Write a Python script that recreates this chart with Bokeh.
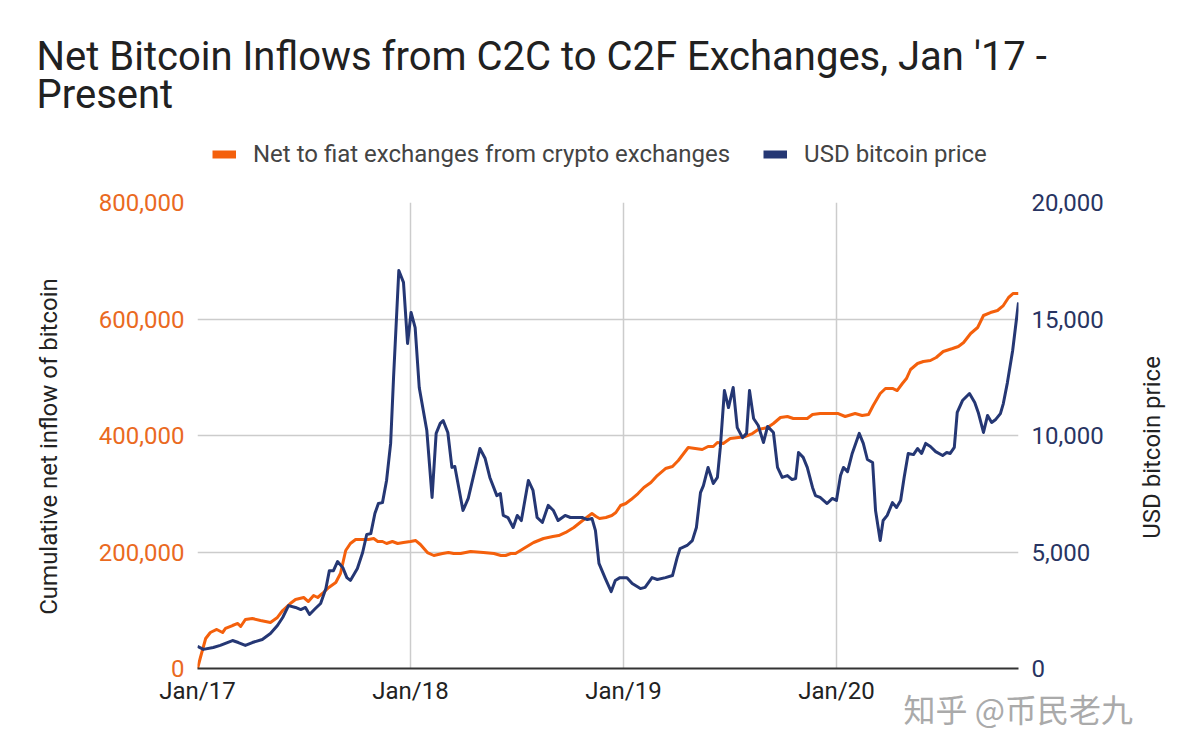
import math
import pandas as pd
from bokeh.plotting import figure
from bokeh.layouts import column, row
from bokeh.models import (Range1d, LinearAxis, NumeralTickFormatter, FixedTicker,
                          DatetimeTickFormatter, Legend, LegendItem, Label, Title)
from bokeh.embed import file_html
from bokeh.resources import INLINE

# ---------------- data ----------------
title_line1 = "Net Bitcoin Inflows from C2C to C2F Exchanges, Jan '17 -"
title_line2 = "Present"
series_flow_name = "Net to fiat exchanges from crypto exchanges"
series_price_name = "USD bitcoin price"
left_axis_title = "Cumulative net inflow of bitcoin"
right_axis_title = "USD bitcoin price"
watermark = "知乎 @币民老九"

x_ticks = ["2017-01-01", "2018-01-01", "2019-01-01", "2020-01-01"]
x_start = "2017-01-01"
x_end = "2020-11-08"
left_ticks = [0, 200000, 400000, 600000, 800000]
right_ticks = [0, 5000, 10000, 15000, 20000]

flow_dates = [
    "2017-01-01", "2017-01-06", "2017-01-15", "2017-01-23", "2017-02-03", "2017-02-13", "2017-02-18",
    "2017-03-02", "2017-03-11", "2017-03-16", "2017-03-24", "2017-04-05", "2017-04-19", "2017-05-06",
    "2017-05-18", "2017-05-27", "2017-06-09", "2017-06-18", "2017-07-02", "2017-07-10", "2017-07-19",
    "2017-07-26", "2017-08-03", "2017-08-14", "2017-08-26", "2017-09-03", "2017-09-12", "2017-09-20",
    "2017-09-29", "2017-10-11", "2017-10-21", "2017-10-30", "2017-11-06", "2017-11-14", "2017-11-21",
    "2017-12-01", "2017-12-10", "2017-12-20",
    "2018-01-01", "2018-01-10", "2018-01-18", "2018-01-30", "2018-02-10", "2018-02-25", "2018-03-07",
    "2018-03-16", "2018-03-28", "2018-04-14", "2018-05-06", "2018-05-24", "2018-06-05", "2018-06-13",
    "2018-06-22", "2018-06-30", "2018-07-14", "2018-07-31", "2018-08-17", "2018-09-02", "2018-09-12",
    "2018-09-24", "2018-10-08", "2018-10-23", "2018-11-08", "2018-11-15", "2018-11-21", "2018-12-02",
    "2018-12-12", "2018-12-19", "2018-12-27",
    "2019-01-05", "2019-01-14", "2019-01-26", "2019-02-05", "2019-02-17", "2019-02-28", "2019-03-14",
    "2019-03-26", "2019-04-05", "2019-04-22", "2019-05-04", "2019-05-16", "2019-05-26", "2019-06-04",
    "2019-06-11", "2019-06-21", "2019-07-03", "2019-07-17", "2019-07-29", "2019-08-10", "2019-08-20",
    "2019-09-05", "2019-09-15", "2019-09-27", "2019-10-09", "2019-10-19", "2019-10-31", "2019-11-12",
    "2019-11-21", "2019-12-04", "2019-12-18",
    "2020-01-03", "2020-01-16", "2020-02-02", "2020-02-14", "2020-02-25", "2020-03-04", "2020-03-16",
    "2020-03-25", "2020-04-06", "2020-04-14", "2020-04-23", "2020-04-30", "2020-05-07", "2020-05-19",
    "2020-05-29", "2020-06-10", "2020-06-20", "2020-07-02", "2020-07-18", "2020-07-28", "2020-08-06",
    "2020-08-18", "2020-08-30", "2020-09-09", "2020-09-21", "2020-10-03", "2020-10-13", "2020-10-22",
    "2020-10-30", "2020-11-08",
]
flow_btc = [
    0, 18900, 51500, 61800, 67000, 61800, 68700,
    73800, 77300, 72100, 84100, 85800, 82400, 79000,
    87600, 99600, 111600, 118500, 121900, 115000, 125300,
    121900, 128800, 139100, 147600, 163100, 202600, 214600,
    221500, 221500, 221500, 223200, 218000, 218000, 214600,
    218000, 214600, 216300,
    218000, 219700, 212900, 199100, 194000, 197400, 199100,
    197400, 197400, 200900, 199100, 197400, 194000, 194000,
    197400, 197400, 206000, 216300, 223200, 226600, 228300,
    233500, 242100, 254100, 266100, 260900, 257500, 259200,
    262700, 267800, 279800,
    283300, 290100, 300400, 310700, 319300, 331300, 343300,
    346800, 357100, 379400, 377700, 376000, 381100, 381100,
    388000, 386300, 394800, 396600, 398300, 403400, 410300,
    413700, 420600, 430900, 432600, 429200, 429200, 429200,
    436000, 437800, 437800,
    437800, 432600, 437800, 434300, 436000, 451500, 472100,
    480700, 480700, 477200, 489300, 497800, 513300, 523600,
    527000, 528700, 533900, 544200, 549300, 552800, 559600,
    575100, 585400, 606000, 611100, 614600, 623100, 636900,
    643800, 643800,
]

price_dates = [
    "2017-01-01", "2017-01-11", "2017-01-28", "2017-02-09", "2017-03-02", "2017-03-12", "2017-03-24",
    "2017-04-05", "2017-04-22", "2017-05-06", "2017-05-18", "2017-05-27", "2017-06-06", "2017-06-18",
    "2017-06-27", "2017-07-05", "2017-07-12", "2017-07-22", "2017-07-31", "2017-08-09", "2017-08-15",
    "2017-08-22", "2017-08-29", "2017-09-07", "2017-09-14", "2017-09-20", "2017-10-02", "2017-10-11",
    "2017-10-18", "2017-10-25", "2017-11-01", "2017-11-07", "2017-11-14", "2017-11-21", "2017-11-28",
    "2017-12-03", "2017-12-12", "2017-12-20", "2017-12-27",
    "2018-01-02", "2018-01-09", "2018-01-16", "2018-01-29", "2018-02-07", "2018-02-14", "2018-02-21",
    "2018-02-26", "2018-03-06", "2018-03-13", "2018-03-18", "2018-04-01", "2018-04-10", "2018-04-30",
    "2018-05-09", "2018-05-17", "2018-05-29", "2018-06-04", "2018-06-09", "2018-06-17", "2018-06-26",
    "2018-07-03", "2018-07-10", "2018-07-22", "2018-07-30", "2018-08-06", "2018-08-15", "2018-08-25",
    "2018-09-03", "2018-09-11", "2018-09-23", "2018-10-02", "2018-10-14", "2018-10-22", "2018-10-31",
    "2018-11-08", "2018-11-14", "2018-11-20", "2018-12-01", "2018-12-11", "2018-12-18", "2018-12-26",
    "2019-01-07", "2019-01-16", "2019-01-30", "2019-02-07", "2019-02-19", "2019-02-28", "2019-03-14",
    "2019-03-26", "2019-04-03", "2019-04-08", "2019-04-20", "2019-04-29", "2019-05-06", "2019-05-13",
    "2019-05-18", "2019-05-26", "2019-06-04", "2019-06-11", "2019-06-16", "2019-06-23", "2019-06-30",
    "2019-07-08", "2019-07-15", "2019-07-24", "2019-07-31", "2019-08-05", "2019-08-12", "2019-08-20",
    "2019-08-29", "2019-09-05", "2019-09-15", "2019-09-22", "2019-09-30", "2019-10-09", "2019-10-17",
    "2019-10-23", "2019-10-28", "2019-11-05", "2019-11-12", "2019-11-21", "2019-11-26", "2019-12-04",
    "2019-12-16", "2019-12-25",
    "2020-01-01", "2020-01-08", "2020-01-13", "2020-01-20", "2020-01-28", "2020-02-09", "2020-02-16",
    "2020-02-23", "2020-03-03", "2020-03-08", "2020-03-16", "2020-03-21", "2020-03-28", "2020-04-06",
    "2020-04-13", "2020-04-20", "2020-04-26", "2020-05-03", "2020-05-12", "2020-05-19", "2020-05-26",
    "2020-06-02", "2020-06-10", "2020-06-19", "2020-07-01", "2020-07-08", "2020-07-14", "2020-07-21",
    "2020-07-26", "2020-08-04", "2020-08-16", "2020-08-25", "2020-08-31", "2020-09-09", "2020-09-16",
    "2020-09-23", "2020-09-30", "2020-10-08", "2020-10-13", "2020-10-20", "2020-10-29", "2020-11-08",
]
price_usd = [
    950, 820, 900, 990, 1200, 1115, 990,
    1115, 1245, 1500, 1845, 2190, 2700, 2620,
    2530, 2620, 2320, 2575, 2790, 3430, 4200,
    4200, 4590, 4330, 3900, 3780, 4290, 4980,
    5750, 5790, 6650, 7080, 7120, 8070, 9660,
    12490, 17080, 16570, 13950,
    15280, 14630, 12060, 10210, 7340, 10090, 10520,
    10640, 10130, 8630, 8670, 6780, 7300, 9440,
    9010, 8200, 7420, 7510, 6570, 6480, 6050,
    6570, 6350, 8070, 7640, 6480, 6270, 7000,
    6780, 6350, 6570, 6480, 6480, 6480, 6390,
    6440, 5920, 4510, 3860, 3300, 3780, 3900,
    3900, 3650, 3430, 3480, 3900, 3820, 3900,
    3990, 4760, 5150, 5280, 5490, 6050, 7550,
    7850, 8630, 7940, 8200, 9490, 11930, 11200,
    12060, 10340, 9910, 10090, 11930, 10730, 10430,
    9700, 10390, 10130, 8630, 8200, 8280, 8110,
    8150, 9270, 9060, 8630, 7770, 7420, 7340,
    7080, 7300,
    7210, 8280, 8630, 8450, 9230, 10090, 9660,
    8970, 8840, 6780, 5490, 6350, 6570, 7120,
    6910, 7210, 8200, 9230, 9180, 9440, 9230,
    9660, 9530, 9310, 9140, 9270, 9230, 9490,
    10990, 11500, 11800, 11420, 10990, 10130, 10860,
    10560, 10690, 10940, 11370, 12270, 13650, 15710,
]

# ---------------- styling / layout ----------------
FONT = "Roboto"
ORANGE = "#f4600c"
NAVY = "#253774"
ORANGE_TXT = "#ea6a1f"
NAVY_TXT = "#283462"
GRID = "#cccccc"

W, H = 1200, 742
HEADER_H = 186                 # title + legend band
LSTRIP_W = 70                  # band holding the left axis title
RSTRIP_W = 64                  # band holding the right axis title
MAIN_W = W - LSTRIP_W - RSTRIP_W
MAIN_H = H - HEADER_H
FRAME_L, FRAME_R, FRAME_T, FRAME_B = 197, 1018, 202, 668   # page pixels of the plot frame


def bare(width, height):
    f = figure(width=width, height=height, output_backend="svg", toolbar_location=None,
               x_axis_location=None, y_axis_location=None, x_range=Range1d(0, 1),
               y_range=Range1d(0, 1), min_border=0)
    f.outline_line_color = None
    f.grid.grid_line_color = None
    return f


# ---- header: title + legend ----
hdr = bare(W, HEADER_H)
for txt, base in ((title_line1, 70), (title_line2, 108)):
    hdr.add_layout(Label(x=36, y=HEADER_H - base + 14, x_units="screen", y_units="screen", text=txt,
                         text_font=FONT, text_font_size="40px", text_color="#212121",
                         text_baseline="alphabetic"))
sw_o = hdr.line(x=[0], y=[0], color=ORANGE, line_width=8, line_cap="butt")
sw_n = hdr.line(x=[0], y=[0], color=NAVY, line_width=8, line_cap="butt")
legend = Legend(items=[LegendItem(label=series_flow_name, renderers=[sw_o]),
                       LegendItem(label=series_price_name, renderers=[sw_n])],
                location=(212, HEADER_H - 140 - 28), orientation="horizontal",
                glyph_width=24, glyph_height=28, label_height=28, label_standoff=17,
                spacing=33, padding=0, margin=0,
                border_line_color=None, background_fill_alpha=0,
                label_text_font=FONT, label_text_font_size="24px",
                label_text_color="#444444")
hdr.add_layout(legend)

# ---- main chart ----
p = figure(width=MAIN_W, height=MAIN_H, x_axis_type="datetime", output_backend="svg",
           toolbar_location=None, title=None,
           x_range=Range1d(pd.Timestamp(x_start), pd.Timestamp(x_end)),
           y_range=Range1d(left_ticks[0], left_ticks[-1]),
           min_border_left=FRAME_L - LSTRIP_W, min_border_right=LSTRIP_W + MAIN_W - FRAME_R,
           min_border_top=FRAME_T - HEADER_H, min_border_bottom=H - FRAME_B)
p.outline_line_color = None
p.extra_y_ranges = {"price": Range1d(right_ticks[0], right_ticks[-1])}

tick_ms = [pd.Timestamp(t).value // 10**6 for t in x_ticks]

p.xgrid.ticker = FixedTicker(ticks=tick_ms)
p.ygrid.ticker = FixedTicker(ticks=left_ticks)
for g in (p.xgrid, p.ygrid):
    g.grid_line_color = GRID
    g.grid_line_width = 1.5

# bottom axis
xa = p.xaxis[0]
xa.ticker = FixedTicker(ticks=tick_ms)
fmt = "%b/%y"
xa.formatter = DatetimeTickFormatter(milliseconds=fmt, seconds=fmt, minsec=fmt, minutes=fmt,
                                     hourmin=fmt, hours=fmt, days=fmt, months=fmt, years=fmt)
xa.axis_line_color = "#333333"
xa.axis_line_width = 2
xa.major_tick_line_color = None
xa.minor_tick_line_color = None
xa.major_tick_in = 0
xa.major_tick_out = 0
xa.major_label_standoff = 8
xa.major_label_text_font = FONT
xa.major_label_text_font_size = "24px"
xa.major_label_text_color = "#222222"

# left axis
ya = p.yaxis[0]
ya.ticker = FixedTicker(ticks=left_ticks)
ya.formatter = NumeralTickFormatter(format="0,0")
ya.axis_line_color = None
ya.major_tick_line_color = None
ya.minor_tick_line_color = None
ya.major_tick_in = 0
ya.major_tick_out = 0
ya.major_label_standoff = 13
ya.major_label_text_font = FONT
ya.major_label_text_font_size = "24px"
ya.major_label_text_color = ORANGE_TXT

# right axis
ra = LinearAxis(y_range_name="price", ticker=FixedTicker(ticks=right_ticks),
                formatter=NumeralTickFormatter(format="0,0"))
ra.axis_line_color = None
ra.major_tick_line_color = None
ra.minor_tick_line_color = None
ra.major_tick_in = 0
ra.major_tick_out = 0
ra.major_label_standoff = 13
ra.major_label_text_font = FONT
ra.major_label_text_font_size = "24px"
ra.major_label_text_color = NAVY_TXT
p.add_layout(ra, "right")

# series
flow_x = pd.to_datetime(flow_dates)
price_x = pd.to_datetime(price_dates)
p.line(flow_x, flow_btc, color=ORANGE, line_width=3, line_join="round")
p.line(price_x, price_usd, color=NAVY, line_width=3, line_join="round", y_range_name="price")

# watermark below the axis labels
p.add_layout(Title(text=watermark, align="left", offset=903 - FRAME_L, vertical_align="top",
                   standoff=-46, text_font="Noto Sans CJK SC", text_font_size="32px",
                   text_font_style="normal", text_color="#aaaaaa"), "below")

# ---- side strips: axis titles reading bottom-to-top ----
lstrip = bare(LSTRIP_W, MAIN_H)
lstrip.add_layout(Label(x=48, y=FRAME_B - 446, x_units="screen", y_units="screen",
                        text=left_axis_title, angle=math.pi / 2, text_font=FONT,
                        text_font_size="24px", text_color="#222222",
                        text_align="center", text_baseline="middle"))
rstrip = bare(RSTRIP_W, MAIN_H)
rstrip.add_layout(Label(x=1151 - (W - RSTRIP_W), y=FRAME_B - 447, x_units="screen", y_units="screen",
                        text=right_axis_title, angle=math.pi / 2, text_font=FONT,
                        text_font_size="24px", text_color="#222222",
                        text_align="center", text_baseline="middle"))

layout = column(hdr, row(lstrip, p, rstrip, spacing=0), spacing=0)
open("out.html", "w").write(file_html(layout, INLINE))
